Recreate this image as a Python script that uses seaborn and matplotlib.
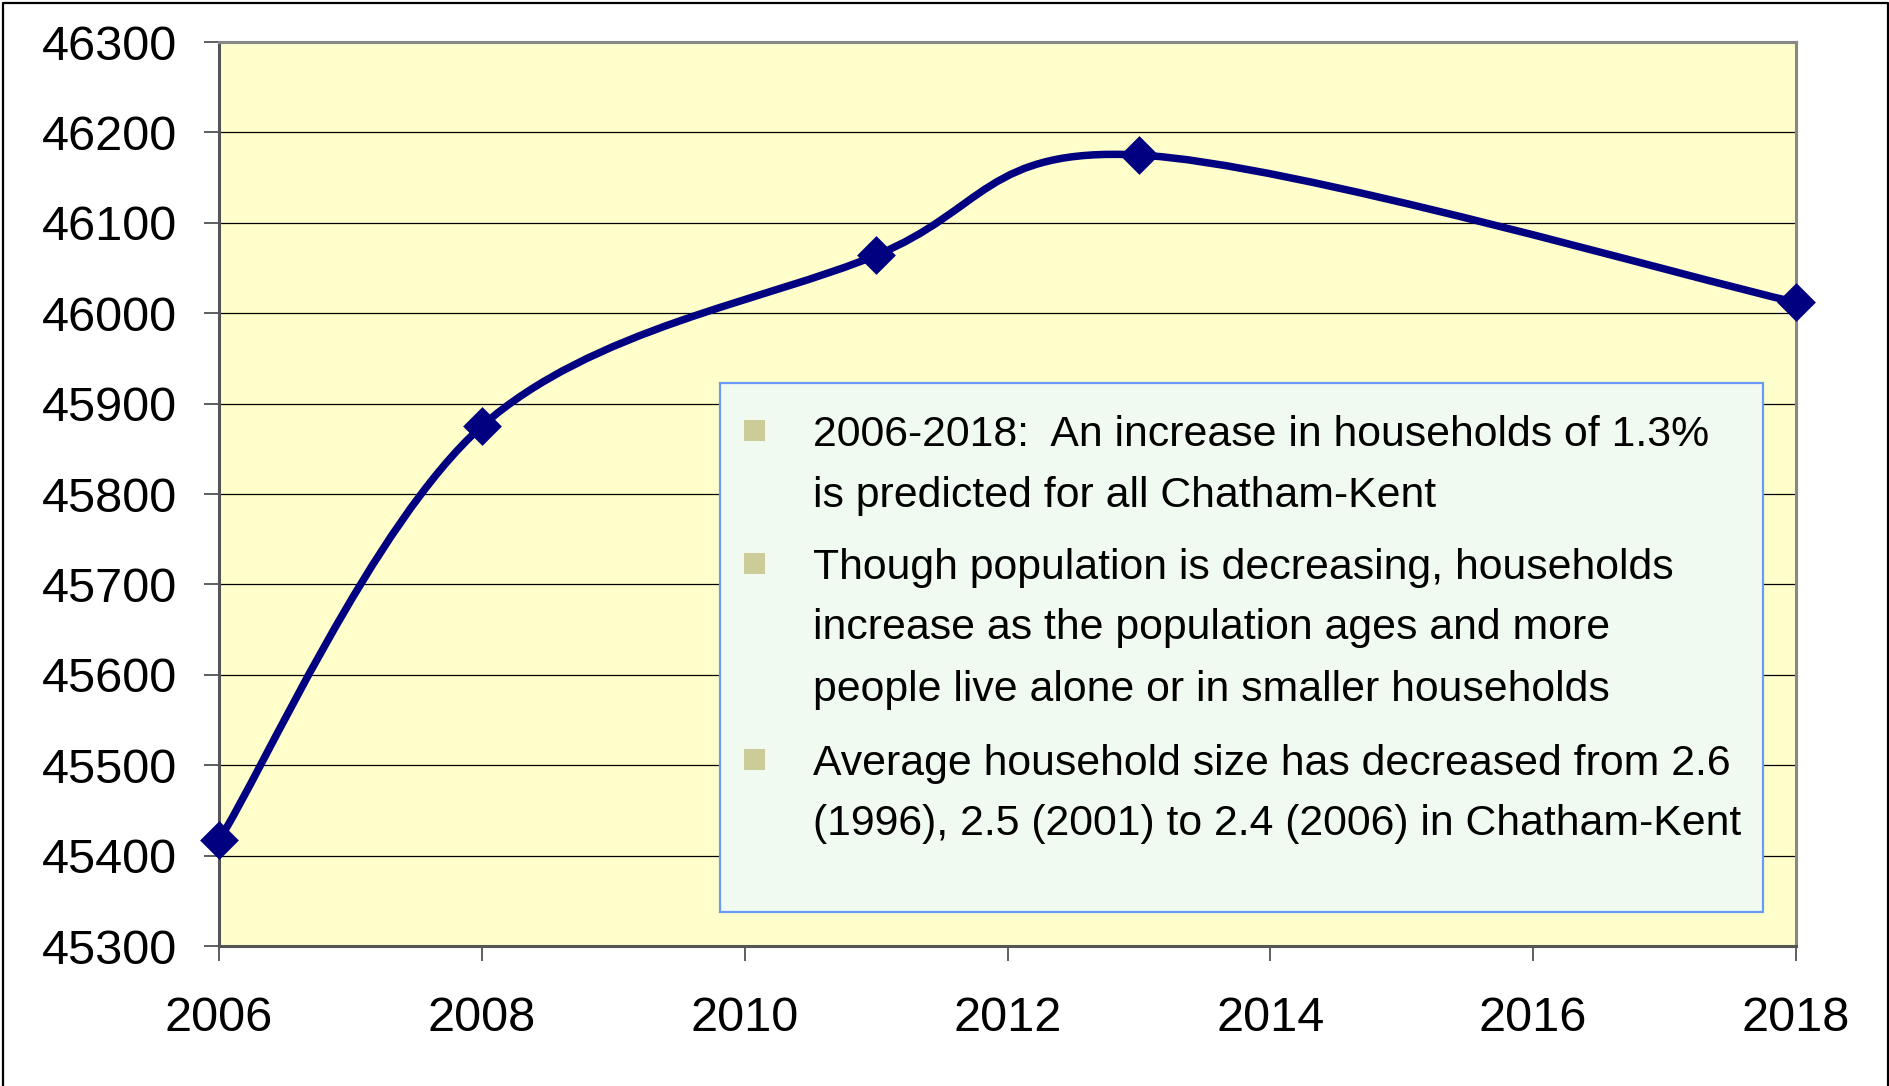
import matplotlib
matplotlib.use("Agg")
import matplotlib.pyplot as plt
from matplotlib.path import Path
from matplotlib.patches import PathPatch, Rectangle
from matplotlib.lines import Line2D
import seaborn as sns
import pandas as pd

# ---- data ----
years = [2006, 2008, 2011, 2013, 2018]
households = [45417, 45875, 46064, 46175, 46012]
x_ticks = [2006, 2008, 2010, 2012, 2014, 2016, 2018]
y_ticks = [45300, 45400, 45500, 45600, 45700, 45800, 45900, 46000, 46100, 46200, 46300]
notes = [
    ["2006-2018:  An increase in households of 1.3%",
     "is predicted for all Chatham-Kent"],
    ["Though population is decreasing, households",
     "increase as the population ages and more",
     "people live alone or in smaller households"],
    ["Average household size has decreased from 2.6",
     "(1996), 2.5 (2001) to 2.4 (2006) in Chatham-Kent"],
]

df = pd.DataFrame({"year": years, "households": households})

sns.set_theme(style="white")
plt.rcParams["font.family"] = ["Liberation Sans", "DejaVu Sans"]

W, H = 1889, 1086
fig = plt.figure(figsize=(W / 100, H / 100), dpi=100)
fig.patch.set_facecolor("white")

def fx(px):
    return px / W

def fy(py):
    return 1 - py / H

L, R, T, B = 219, 1796, 42, 946
ax = fig.add_axes([fx(L), fy(B), fx(R) - fx(L), fy(T) - fy(B)])
ax.set_facecolor("#FFFFCC")

# smoothed line (Excel-style Bezier through data points)
pts = list(zip(df["year"], df["households"]))
n = len(pts)
verts = [pts[0]]
codes = [Path.MOVETO]
for i in range(n - 1):
    p0 = pts[i - 1] if i > 0 else pts[i]
    p1 = pts[i]
    p2 = pts[i + 1]
    p3 = pts[i + 2] if i + 2 < n else pts[i + 1]
    c1 = (p1[0] + (p2[0] - p0[0]) / 6, p1[1] + (p2[1] - p0[1]) / 6)
    c2 = (p2[0] - (p3[0] - p1[0]) / 6, p2[1] - (p3[1] - p1[1]) / 6)
    verts += [c1, c2, p2]
    codes += [Path.CURVE4] * 3
ax.add_patch(PathPatch(Path(verts, codes), facecolor="none", edgecolor="#000080",
                       lw=5.4, joinstyle="round", capstyle="round",
                       transform=ax.transData, zorder=3, clip_on=False))

sns.scatterplot(data=df, x="year", y="households", marker="D", s=390,
                color="#000080", edgecolor="#000080", linewidth=0,
                ax=ax, zorder=4, clip_on=False, legend=False)

ax.set_xlim(2006, 2018)
ax.set_ylim(45300, 46300)
ax.set_xticks(x_ticks)
ax.set_yticks(y_ticks)
ax.set_xticklabels([str(v) for v in x_ticks])
ax.set_yticklabels([str(v) for v in y_ticks])
ax.set_xlabel("")
ax.set_ylabel("")
ax.yaxis.grid(True, color="black", lw=0.9, zorder=1)
ax.xaxis.grid(False)
ax.set_axisbelow(True)

ax.tick_params(axis="both", direction="out", length=11, width=1.1, color="#333333",
               labelsize=35, labelcolor="black")
ax.tick_params(axis="y", pad=19)
ax.tick_params(axis="x", pad=25)
ax.tick_params(bottom=True, left=True)

for side in ["top", "right"]:
    ax.spines[side].set_color("#888888")
    ax.spines[side].set_linewidth(2.2)
for side in ["left", "bottom"]:
    ax.spines[side].set_color("#555555")
    ax.spines[side].set_linewidth(2.2)
    ax.spines[side].set_visible(True)

# text box
bx0, by0, bx1, by1 = 720, 383, 1763, 912
fig.add_artist(Rectangle((fx(bx0), fy(by1)), fx(bx1) - fx(bx0), fy(by0) - fy(by1),
                         transform=fig.transFigure, facecolor="#F0FAF0",
                         edgecolor="#6A9AF7", lw=1.6, zorder=5))

line_centers = [[430, 491], [563, 624, 685], [759, 820]]
for para, centers in zip(notes, line_centers):
    c0 = centers[0]
    fig.add_artist(Rectangle((fx(744), fy(c0 + 10.5)), fx(21), 21 / H,
                             transform=fig.transFigure, facecolor="#CCCC99",
                             edgecolor="none", zorder=6))
    for txt, cy in zip(para, centers):
        fig.text(fx(813), fy(cy), txt, fontsize=30.8, color="black",
                 ha="left", va="center_baseline", zorder=7)

# figure border (left, top, right)
fig.add_artist(Line2D([fx(2.5), fx(2.5), fx(1887.5), fx(1887.5)],
                      [0, fy(3), fy(3), 0], transform=fig.transFigure,
                      color="black", lw=1.6, zorder=10))

fig.savefig("out.png", dpi=100, facecolor="white")
